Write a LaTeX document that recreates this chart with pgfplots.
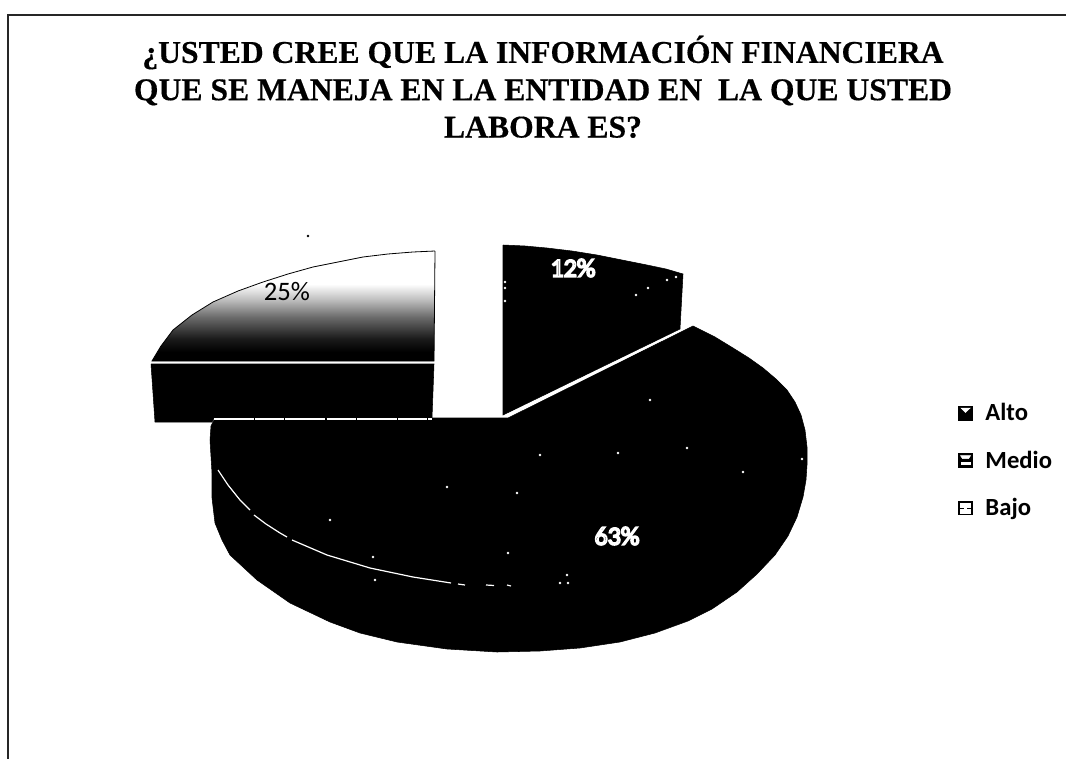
\documentclass[border=0pt]{standalone}
\usepackage{fontspec}
\usepackage{pgfplots}
\pgfplotsset{compat=1.18}
\setmainfont{Carlito}
\newfontfamily\titlefont[BoldFeatures={FakeBold=0.4}]{Liberation Serif}
\pgfdeclareverticalshading{bajoshade}{100bp}{color(0bp)=(black); color(29bp)=(black); color(35bp)=(black!90); color(45bp)=(black!58); color(53bp)=(black!25); color(60bp)=(white); color(100bp)=(white)}
\newcommand{\outlined}[1]{\special{pdf:code q 1 Tr 1.3 w 1 1 1 RG 0 0 0 rg}#1\special{pdf:code Q}}
\begin{document}
\begin{tikzpicture}
\begin{axis}[
  scale only axis, width=799.5pt, height=569.25pt,
  xmin=0, xmax=1066, ymin=0, ymax=759, y dir=reverse,
  hide axis, clip=false,
  legend style={at={(axis cs:958,400.5)}, anchor=north west, draw=none, fill=none,
    font=\fontsize{18.5pt}{22pt}\selectfont\bfseries, row sep=17.2pt, inner sep=0pt},
  legend cell align=left,
]
\coordinate (bbA) at (axis cs:0,759);
\coordinate (bbB) at (axis cs:1066,0);
% frame
\addplot[forget plot, color=black!85, line width=1.1pt] coordinates {(8,759) (8,15) (1066,15)};
% Medio
\addplot[forget plot, fill=black, draw=black, line width=0.4pt] coordinates {
(508,418)(693,326)(715,337)(733,348)(749,358)(763,368)(776,379)(787,390)(795,402)(801,415)(805,430)(807,447)
(807,465)(806,480)(803,497)(797,517)(788,536)(775,555)(757,574)(737,592)(712,609)(688,621)(655,633)(620,642)
(580,648)(540,651)(497,652)(447,649)(397,642)(360,633)(330,622)(290,603)(257,580)(230,555)(222,540)(215,523)
(212,498)(212,473)(210,440)(211,426)(214,420)(220,418)(508,418)};
% Alto
\addplot[forget plot, fill=black, draw=black, line width=0.4pt] coordinates {
(503,245)(525,246)(547,248)(572,251)(597,255)(622,260)(647,265)(666,269)(683,274)(680,329)(503,415)(503,245)};
% Bajo: side, then shaded top
\addplot[forget plot, fill=black, draw=black, line width=0.4pt] coordinates {
(151,364)(434,364)(432,418)(214,418)(212,422)(155,422)(151,364)};
\addplot[forget plot, shading=bajoshade, draw=black, line width=0.6pt] coordinates {
(435,251)(413,252)(388,254)(363,257)(338,262)(313,267)(288,274)(263,282)(238,291)(213,302)(192,315)(173,330)(161,346)(152,361)(434,361)(435,251)};
% white separator lines and arc on the Medio slice
\addplot[forget plot, color=white, line width=0.9pt] coordinates {(152,362.5)(433,362.5)};
\addplot[forget plot, color=white, line width=0.8pt, dash pattern=on 30pt off 0.8pt on 22pt off 0.8pt] coordinates {(214,419)(432,419)};
\addplot[forget plot, color=white, line width=0.9pt] coordinates {(218,470)(228,485)(240,500)(250,510)};
\addplot[forget plot, color=white, line width=0.9pt] coordinates {(254,515)(266,524)(280,533)(287,537)};
\addplot[forget plot, color=white, line width=0.9pt] coordinates {(292,540)(327,555)(370,568)(413,577)(451,583)};
\addplot[forget plot, color=white, line width=0.9pt] coordinates {(458,584)(465,585)};
\addplot[forget plot, color=white, line width=0.9pt] coordinates {(486,585)(494,585.5)};
\addplot[forget plot, color=white, line width=0.9pt] coordinates {(507,585)(511,586)};
% scan specks
\addplot[forget plot, only marks, mark=*, mark size=0.7pt, color=white] coordinates {
(447,487)(517,493)(330,520)(373,557)(375,580)(508,553)(567,575)(560,583)(568,583)(618,453)(687,448)(802,459)(743,472)
(505,282)(505,288)(505,301)(636,295)(648,288)(667,280)(676,277)(540,455)(650,400)};
\addplot[forget plot, only marks, mark=*, mark size=0.7pt, color=black] coordinates {(308,236)};
% title and labels
\node[align=center, font=\titlefont\bfseries\fontsize{23.75pt}{28pt}\selectfont, anchor=north] at (axis cs:543,31)
  {¿USTED CREE QUE LA INFORMACIÓN FINANCIERA\\QUE SE MANEJA EN LA ENTIDAD EN \ LA QUE USTED\\LABORA ES?};
\node[font=\fontsize{20pt}{22pt}\selectfont] at (axis cs:287,292) {25\%};
\node[font=\fontsize{19.5pt}{22pt}\selectfont] at (axis cs:573,268) {\outlined{12\%}};
\node[font=\fontsize{19.5pt}{22pt}\selectfont] at (axis cs:617,536) {\outlined{63\%}};
% legend
\addlegendimage{legend image code/.code={
  \fill[black] (0pt,-5.2pt) rectangle (10.5pt,5.2pt);
  \fill[white] (1.8pt,3.8pt) -- (8.7pt,3.8pt) -- (5.2pt,0.5pt) -- cycle;}}
\addlegendentry{\hspace*{7.5pt}Alto}
\addlegendimage{legend image code/.code={
  \fill[black] (0pt,-5.2pt) rectangle (10.5pt,5.2pt);
  \fill[white] (1.5pt,3.8pt) -- (9pt,3.8pt) -- (7.5pt,1.5pt) -- (3pt,1.5pt) -- cycle;
  \fill[white] (2pt,-1.5pt) rectangle (8.5pt,-3pt);}}
\addlegendentry{\hspace*{7.5pt}Medio}
\addlegendimage{legend image code/.code={
  \draw[black, line width=1.3pt] (0.6pt,-4.6pt) rectangle (9.9pt,4.6pt);
  \draw[black, line width=0.9pt] (0.6pt,0pt) -- (4pt,0pt) (6.5pt,0pt) -- (9.9pt,0pt);}}
\addlegendentry{\hspace*{7.5pt}Bajo}
\end{axis}
\pgfresetboundingbox
\path[use as bounding box] (bbA) rectangle (bbB);
\end{tikzpicture}
\end{document}
